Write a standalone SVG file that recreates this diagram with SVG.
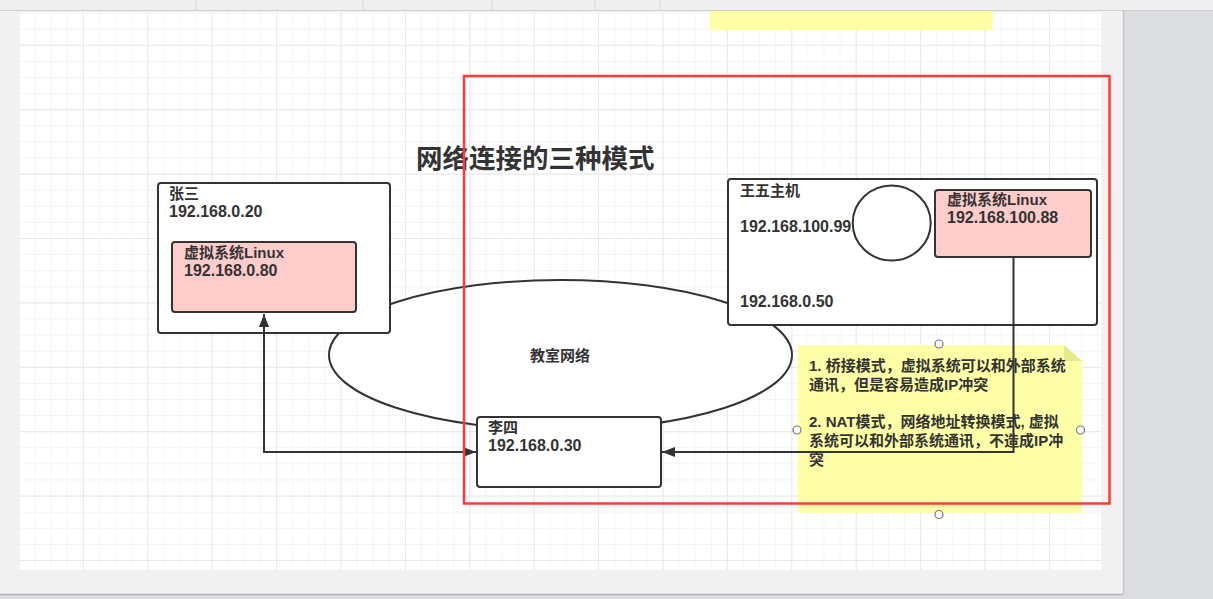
<svg xmlns="http://www.w3.org/2000/svg" width="1213" height="599" viewBox="0 0 1213 599">
<style>
.t{font-family:"Liberation Sans","Noto Sans CJK SC",sans-serif;fill:#333;}
.n{font-size:16px;font-weight:bold;}
.c{font-size:15px;font-weight:bold;}
.box{fill:#fff;stroke:#333;stroke-width:2;}
.pink{fill:#ffcccc;stroke:#333;stroke-width:2;}
.conn{fill:none;stroke:#333;stroke-width:2;}
.handle{fill:#fff;stroke:#777;stroke-width:1.2;}
</style>
<defs>
<pattern id="gminor" patternUnits="userSpaceOnUse" x="18.5" y="12.6" width="16.1" height="16.1">
<path d="M0 0H16.1M0 0V16.1" fill="none" stroke="#efefef" stroke-width="1.2"/>
</pattern>
<pattern id="gmajor" patternUnits="userSpaceOnUse" x="18.5" y="44.8" width="64.4" height="64.4">
<path d="M0 0H64.4M0 0V64.4" fill="none" stroke="#e4e4e4" stroke-width="1.4"/>
</pattern>
<marker id="arr" markerUnits="userSpaceOnUse" markerWidth="14" markerHeight="12" refX="13" refY="5" orient="auto">
<path d="M0 0L13 5L0 10Z" fill="#333"/>
</marker>
</defs>
<!-- background chrome -->
<rect x="0" y="0" width="1213" height="599" fill="#dcdde0"/>
<rect x="0" y="0" width="1213" height="10" fill="#efefef"/>
<line x1="0" y1="10.5" x2="1213" y2="10.5" stroke="#cfcfcf" stroke-width="1"/>
<g stroke="#d8d8d8" stroke-width="1">
<line x1="196" y1="0" x2="196" y2="10"/><line x1="363" y1="0" x2="363" y2="10"/><line x1="492" y1="0" x2="492" y2="10"/><line x1="595" y1="0" x2="595" y2="10"/><line x1="660" y1="0" x2="660" y2="10"/>
</g>
<rect x="0" y="11" width="1123" height="583" fill="#f1f1f1"/>
<line x1="0" y1="594.5" x2="1123" y2="594.5" stroke="#b5b5b5" stroke-width="1.5"/>
<line x1="1123.5" y1="11" x2="1123.5" y2="595" stroke="#c4c4c4" stroke-width="1.5"/>
<rect x="18.5" y="12" width="1083" height="558" fill="#fff"/>
<rect x="18.5" y="12" width="1083" height="558" fill="url(#gminor)"/>
<rect x="18.5" y="12" width="1083" height="558" fill="url(#gmajor)"/>
<!-- yellow band at top -->
<rect x="710" y="11" width="283" height="19" fill="#ffffa8"/>

<!-- title -->
<text id="title" class="t" x="416" y="168" font-size="26.5" font-weight="bold">网络连接的三种模式</text>

<!-- classroom network ellipse -->
<g id="classroom">
<ellipse cx="560.5" cy="355" rx="231.5" ry="75" fill="#fff" stroke="#333" stroke-width="2"/>
<text class="t c" x="560" y="361" text-anchor="middle">教室网络</text>
</g>

<!-- Zhang San -->
<g id="zhangsan">
<rect class="box" x="158" y="183" width="232" height="150" rx="3"/>
<text class="t c" x="169" y="199">张三</text>
<text class="t n" x="169" y="217">192.168.0.20</text>
</g>
<g id="zhangsan-vm">
<rect class="pink" x="172" y="242" width="184" height="70" rx="3"/>
<text class="t c" x="184" y="258">虚拟系统Linux</text>
<text class="t n" x="184" y="276">192.168.0.80</text>
</g>

<!-- Wang Wu -->
<g id="wangwu">
<rect class="box" x="728" y="179" width="369" height="146" rx="3"/>
<text class="t c" x="740" y="196">王五主机</text>
<text class="t n" x="740" y="232">192.168.100.99</text>
<text class="t n" x="740" y="307">192.168.0.50</text>
</g>
<g id="wangwu-nat">
<ellipse cx="891.7" cy="223" rx="39" ry="37.5" fill="#fff" stroke="#333" stroke-width="2"/>
</g>
<g id="wangwu-vm">
<rect class="pink" x="935" y="190" width="156" height="67" rx="3"/>
<text class="t c" x="947" y="205">虚拟系统Linux</text>
<text class="t n" x="947" y="223">192.168.100.88</text>
</g>

<!-- Li Si -->
<g id="lisi">
<rect class="box" x="477" y="417" width="184" height="70" rx="3"/>
<text class="t c" x="488" y="433">李四</text>
<text class="t n" x="488" y="451">192.168.0.30</text>
</g>

<!-- note -->
<g id="note">
<path d="M798 345H1064L1082 361V513H798Z" fill="#ffffa8"/>
<path d="M1064 345L1082 361H1064Z" fill="#e8e88e"/>
<text class="t c" x="809" y="371">1. 桥接模式，虚拟系统可以和外部系统</text>
<text class="t c" x="809" y="390">通讯，但是容易造成IP冲突</text>
<text class="t c" x="809" y="427">2. NAT模式，网络地址转换模式, 虚拟</text>
<text class="t c" x="809" y="446">系统可以和外部系统通讯，不造成IP冲</text>
<text class="t c" x="809" y="465">突</text>
</g>

<!-- connectors -->
<g id="connectors">
<path class="conn" d="M476 452H264V314" marker-end="url(#arr)"/>
<path class="conn" d="M264 452H476" marker-end="url(#arr)"/>
<path class="conn" d="M1013.5 257V452H662" marker-end="url(#arr)"/>
</g>

<!-- selection handles -->
<g id="handles">
<circle class="handle" cx="939" cy="344" r="4"/>
<circle class="handle" cx="797" cy="430" r="4"/>
<circle class="handle" cx="1080.5" cy="430" r="4"/>
<circle class="handle" cx="939" cy="514.5" r="4"/>
</g>

<!-- red highlight frame -->
<rect id="highlight" x="464" y="76" width="645.5" height="427.5" fill="none" stroke="#ff3b3b" stroke-width="2.5"/>
</svg>
